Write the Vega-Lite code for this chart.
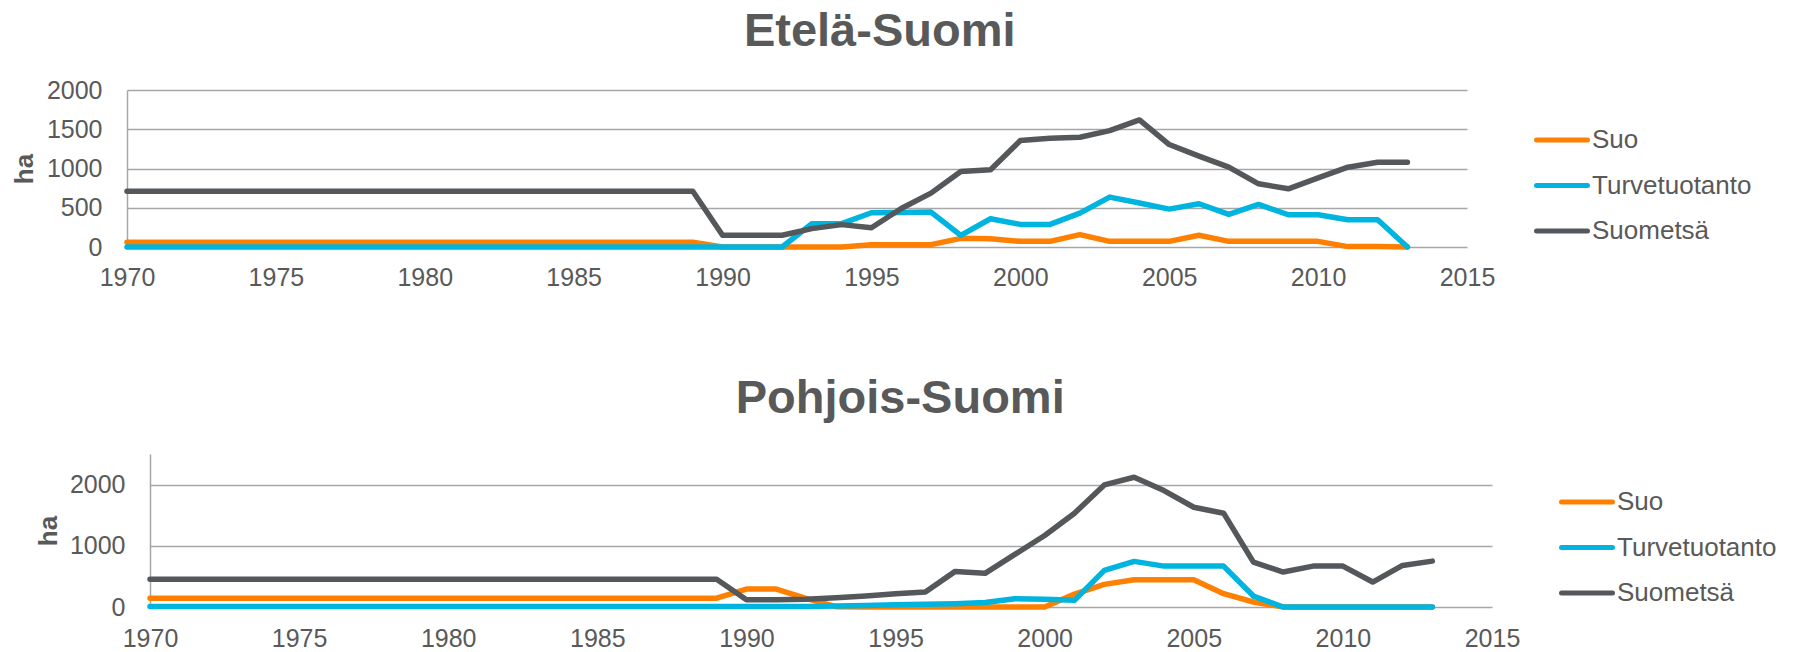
{
  "$schema": "https://vega.github.io/schema/vega-lite/v6.json",
  "background": "white",
  "padding": {"left": 11, "top": 8, "right": 0, "bottom": 0},
  "spacing": 85,
  "resolve": {"scale": {"color": "independent", "x": "independent", "y": "independent"}, "legend": {"color": "independent"}},
  "config": {
    "view": {"stroke": null},
    "font": "Liberation Sans",
    "title": {"font": "Liberation Sans", "fontSize": 47, "fontWeight": "bold", "color": "#595959", "anchor": "middle", "frame": "bounds"},
    "axis": {"labelFont": "Liberation Sans", "labelFontSize": 25, "labelColor": "#595959", "titleFont": "Liberation Sans", "titleColor": "#595959", "gridColor": "#A6A6A6", "gridWidth": 1.5, "domainColor": "#A6A6A6", "domainWidth": 1.5, "ticks": false, "tickSize": 0},
    "legend": {"labelFont": "Liberation Sans", "labelFontSize": 26, "labelColor": "#595959", "symbolType": "stroke", "symbolStrokeWidth": 5, "symbolSize": 2600, "labelOffset": 2, "rowPadding": 4.5}
  },
  "datasets": {
    "etela": [
      {"vuosi": 1970, "Suo": 60, "Turvetuotanto": 0, "Suometsä": 710},
      {"vuosi": 1971, "Suo": 60, "Turvetuotanto": 0, "Suometsä": 710},
      {"vuosi": 1972, "Suo": 60, "Turvetuotanto": 0, "Suometsä": 710},
      {"vuosi": 1973, "Suo": 60, "Turvetuotanto": 0, "Suometsä": 710},
      {"vuosi": 1974, "Suo": 60, "Turvetuotanto": 0, "Suometsä": 710},
      {"vuosi": 1975, "Suo": 60, "Turvetuotanto": 0, "Suometsä": 710},
      {"vuosi": 1976, "Suo": 60, "Turvetuotanto": 0, "Suometsä": 710},
      {"vuosi": 1977, "Suo": 60, "Turvetuotanto": 0, "Suometsä": 710},
      {"vuosi": 1978, "Suo": 60, "Turvetuotanto": 0, "Suometsä": 710},
      {"vuosi": 1979, "Suo": 60, "Turvetuotanto": 0, "Suometsä": 710},
      {"vuosi": 1980, "Suo": 60, "Turvetuotanto": 0, "Suometsä": 710},
      {"vuosi": 1981, "Suo": 60, "Turvetuotanto": 0, "Suometsä": 710},
      {"vuosi": 1982, "Suo": 60, "Turvetuotanto": 0, "Suometsä": 710},
      {"vuosi": 1983, "Suo": 60, "Turvetuotanto": 0, "Suometsä": 710},
      {"vuosi": 1984, "Suo": 60, "Turvetuotanto": 0, "Suometsä": 710},
      {"vuosi": 1985, "Suo": 60, "Turvetuotanto": 0, "Suometsä": 710},
      {"vuosi": 1986, "Suo": 60, "Turvetuotanto": 0, "Suometsä": 710},
      {"vuosi": 1987, "Suo": 60, "Turvetuotanto": 0, "Suometsä": 710},
      {"vuosi": 1988, "Suo": 60, "Turvetuotanto": 0, "Suometsä": 710},
      {"vuosi": 1989, "Suo": 60, "Turvetuotanto": 0, "Suometsä": 710},
      {"vuosi": 1990, "Suo": 0, "Turvetuotanto": 0, "Suometsä": 150},
      {"vuosi": 1991, "Suo": 0, "Turvetuotanto": 0, "Suometsä": 150},
      {"vuosi": 1992, "Suo": 0, "Turvetuotanto": 0, "Suometsä": 150},
      {"vuosi": 1993, "Suo": 0, "Turvetuotanto": 297, "Suometsä": 234},
      {"vuosi": 1994, "Suo": 0, "Turvetuotanto": 297, "Suometsä": 285},
      {"vuosi": 1995, "Suo": 30, "Turvetuotanto": 436, "Suometsä": 245},
      {"vuosi": 1996, "Suo": 30, "Turvetuotanto": 440, "Suometsä": 490},
      {"vuosi": 1997, "Suo": 30, "Turvetuotanto": 445, "Suometsä": 686},
      {"vuosi": 1998, "Suo": 110, "Turvetuotanto": 148, "Suometsä": 962},
      {"vuosi": 1999, "Suo": 106, "Turvetuotanto": 360, "Suometsä": 983},
      {"vuosi": 2000, "Suo": 72, "Turvetuotanto": 288, "Suometsä": 1356},
      {"vuosi": 2001, "Suo": 72, "Turvetuotanto": 288, "Suometsä": 1385},
      {"vuosi": 2002, "Suo": 157, "Turvetuotanto": 432, "Suometsä": 1398},
      {"vuosi": 2003, "Suo": 72, "Turvetuotanto": 636, "Suometsä": 1483},
      {"vuosi": 2004, "Suo": 72, "Turvetuotanto": 560, "Suometsä": 1619},
      {"vuosi": 2005, "Suo": 72, "Turvetuotanto": 483, "Suometsä": 1305},
      {"vuosi": 2006, "Suo": 150, "Turvetuotanto": 551, "Suometsä": 1157},
      {"vuosi": 2007, "Suo": 72, "Turvetuotanto": 415, "Suometsä": 1017},
      {"vuosi": 2008, "Suo": 72, "Turvetuotanto": 542, "Suometsä": 805},
      {"vuosi": 2009, "Suo": 72, "Turvetuotanto": 411, "Suometsä": 741},
      {"vuosi": 2010, "Suo": 72, "Turvetuotanto": 411, "Suometsä": 881},
      {"vuosi": 2011, "Suo": 5, "Turvetuotanto": 347, "Suometsä": 1017},
      {"vuosi": 2012, "Suo": 5, "Turvetuotanto": 347, "Suometsä": 1080},
      {"vuosi": 2013, "Suo": 0, "Turvetuotanto": 0, "Suometsä": 1080}
    ],
    "pohjois": [
      {"vuosi": 1970, "Suo": 145, "Turvetuotanto": 10, "Suometsä": 452},
      {"vuosi": 1971, "Suo": 145, "Turvetuotanto": 10, "Suometsä": 452},
      {"vuosi": 1972, "Suo": 145, "Turvetuotanto": 10, "Suometsä": 452},
      {"vuosi": 1973, "Suo": 145, "Turvetuotanto": 10, "Suometsä": 452},
      {"vuosi": 1974, "Suo": 145, "Turvetuotanto": 10, "Suometsä": 452},
      {"vuosi": 1975, "Suo": 145, "Turvetuotanto": 10, "Suometsä": 452},
      {"vuosi": 1976, "Suo": 145, "Turvetuotanto": 10, "Suometsä": 452},
      {"vuosi": 1977, "Suo": 145, "Turvetuotanto": 10, "Suometsä": 452},
      {"vuosi": 1978, "Suo": 145, "Turvetuotanto": 10, "Suometsä": 452},
      {"vuosi": 1979, "Suo": 145, "Turvetuotanto": 10, "Suometsä": 452},
      {"vuosi": 1980, "Suo": 145, "Turvetuotanto": 10, "Suometsä": 452},
      {"vuosi": 1981, "Suo": 145, "Turvetuotanto": 10, "Suometsä": 452},
      {"vuosi": 1982, "Suo": 145, "Turvetuotanto": 10, "Suometsä": 452},
      {"vuosi": 1983, "Suo": 145, "Turvetuotanto": 10, "Suometsä": 452},
      {"vuosi": 1984, "Suo": 145, "Turvetuotanto": 10, "Suometsä": 452},
      {"vuosi": 1985, "Suo": 145, "Turvetuotanto": 10, "Suometsä": 452},
      {"vuosi": 1986, "Suo": 145, "Turvetuotanto": 10, "Suometsä": 452},
      {"vuosi": 1987, "Suo": 145, "Turvetuotanto": 10, "Suometsä": 452},
      {"vuosi": 1988, "Suo": 145, "Turvetuotanto": 10, "Suometsä": 452},
      {"vuosi": 1989, "Suo": 145, "Turvetuotanto": 10, "Suometsä": 452},
      {"vuosi": 1990, "Suo": 293, "Turvetuotanto": 10, "Suometsä": 120},
      {"vuosi": 1991, "Suo": 293, "Turvetuotanto": 10, "Suometsä": 120},
      {"vuosi": 1992, "Suo": 140, "Turvetuotanto": 10, "Suometsä": 125},
      {"vuosi": 1993, "Suo": 5, "Turvetuotanto": 15, "Suometsä": 150},
      {"vuosi": 1994, "Suo": 0, "Turvetuotanto": 25, "Suometsä": 180},
      {"vuosi": 1995, "Suo": 0, "Turvetuotanto": 35, "Suometsä": 215},
      {"vuosi": 1996, "Suo": 0, "Turvetuotanto": 45, "Suometsä": 245},
      {"vuosi": 1997, "Suo": 0, "Turvetuotanto": 55, "Suometsä": 582},
      {"vuosi": 1998, "Suo": 0, "Turvetuotanto": 75, "Suometsä": 550},
      {"vuosi": 1999, "Suo": 0, "Turvetuotanto": 136, "Suometsä": 859},
      {"vuosi": 2000, "Suo": 0, "Turvetuotanto": 125, "Suometsä": 1168},
      {"vuosi": 2001, "Suo": 210, "Turvetuotanto": 109, "Suometsä": 1533},
      {"vuosi": 2002, "Suo": 370, "Turvetuotanto": 598, "Suometsä": 1995},
      {"vuosi": 2003, "Suo": 446, "Turvetuotanto": 745, "Suometsä": 2120},
      {"vuosi": 2004, "Suo": 446, "Turvetuotanto": 668, "Suometsä": 1902},
      {"vuosi": 2005, "Suo": 446, "Turvetuotanto": 668, "Suometsä": 1630},
      {"vuosi": 2006, "Suo": 217, "Turvetuotanto": 668, "Suometsä": 1533},
      {"vuosi": 2007, "Suo": 82, "Turvetuotanto": 179, "Suometsä": 734},
      {"vuosi": 2008, "Suo": 0, "Turvetuotanto": 0, "Suometsä": 571},
      {"vuosi": 2009, "Suo": 0, "Turvetuotanto": 0, "Suometsä": 668},
      {"vuosi": 2010, "Suo": 0, "Turvetuotanto": 0, "Suometsä": 668},
      {"vuosi": 2011, "Suo": 0, "Turvetuotanto": 0, "Suometsä": 408},
      {"vuosi": 2012, "Suo": 0, "Turvetuotanto": 0, "Suometsä": 679},
      {"vuosi": 2013, "Suo": 0, "Turvetuotanto": 0, "Suometsä": 750}
    ]
  },
  "vconcat": [
    {
      "title": {"text": "Etelä-Suomi", "offset": 22, "dx": -13},
      "width": 1340,
      "height": 157,
      "data": {"name": "etela"},
      "transform": [{"fold": ["Suo", "Turvetuotanto", "Suometsä"], "as": ["sarja", "arvo"]}],
      "mark": {"type": "line", "strokeWidth": 5.5, "strokeCap": "round", "strokeJoin": "round"},
      "encoding": {
        "x": {"field": "vuosi", "type": "quantitative", "scale": {"domain": [1970, 2015], "nice": false, "zero": false},
              "axis": {"values": [1970, 1975, 1980, 1985, 1990, 1995, 2000, 2005, 2010, 2015], "format": "d", "title": null, "domain": false, "grid": false, "labelPadding": 18, "labelFlush": false, "labelOverlap": false}},
        "y": {"field": "arvo", "type": "quantitative", "scale": {"domain": [0, 2000], "nice": false},
              "axis": {"values": [0, 500, 1000, 1500, 2000], "format": "d", "title": "ha", "titleFontSize": 26, "titleFontWeight": "bold", "titlePadding": 9, "labelPadding": 25}},
        "color": {"field": "sarja", "type": "nominal",
                  "scale": {"domain": ["Suo", "Turvetuotanto", "Suometsä"], "range": ["#FF8000", "#00B4E0", "#54585A"]},
                  "legend": {"title": null, "offset": 44.5, "padding": 22, "rowPadding": 4.5, "encode": {"symbols": {"update": {"strokeCap": {"value": "round"}}}}}}
      }
    },
    {
      "title": {"text": "Pohjois-Suomi", "offset": 31, "dx": -16},
      "width": 1365,
      "height": 153,
      "data": {"name": "pohjois"},
      "transform": [{"fold": ["Suo", "Turvetuotanto", "Suometsä"], "as": ["sarja", "arvo"]}],
      "mark": {"type": "line", "strokeWidth": 5.5, "strokeCap": "round", "strokeJoin": "round"},
      "encoding": {
        "x": {"field": "vuosi", "type": "quantitative", "scale": {"domain": [1970, 2015], "nice": false, "zero": false, "rangeMin": 23},
              "axis": {"values": [1970, 1975, 1980, 1985, 1990, 1995, 2000, 2005, 2010, 2015], "format": "d", "title": null, "domain": false, "grid": false, "labelPadding": 19, "labelFlush": false, "labelOverlap": false}},
        "y": {"field": "arvo", "type": "quantitative", "scale": {"domain": [0, 2500], "nice": false},
              "axis": {"values": [0, 1000, 2000], "format": "d", "offset": -23, "title": "ha", "titleFontSize": 26, "titleFontWeight": "bold", "titlePadding": 8, "labelPadding": 25}},
        "color": {"field": "sarja", "type": "nominal",
                  "scale": {"domain": ["Suo", "Turvetuotanto", "Suometsä"], "range": ["#FF8000", "#00B4E0", "#54585A"]},
                  "legend": {"title": null, "offset": 46.5, "padding": 20, "rowPadding": 4.5, "encode": {"symbols": {"update": {"strokeCap": {"value": "round"}}}}}}
      }
    }
  ]
}
